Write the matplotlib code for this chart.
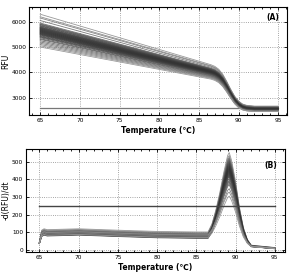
import matplotlib
matplotlib.use("Agg")
import matplotlib.pyplot as plt
from matplotlib.ticker import MultipleLocator

# ---- panel A: melt curves (RFU) ----
rfu_start = [6300, 6200, 6150, 6050, 5950, 5920, 5900, 5880, 5850, 5830,
             5800, 5780, 5760, 5740, 5720, 5700, 5680, 5660, 5640, 5620,
             5600, 5580, 5560, 5540, 5520, 5500, 5480, 5450, 5420, 5400,
             5370, 5330, 5300, 5250, 5200, 5150, 5100, 5050, 5000]
rfu_knee = [4300, 4260, 4240, 4200, 4160, 4150, 4140, 4130, 4120, 4110,
            4100, 4090, 4080, 4070, 4060, 4050, 4040, 4030, 4020, 4010,
            4000, 3990, 3980, 3970, 3960, 3950, 3940, 3930, 3920, 3910,
            3890, 3870, 3860, 3840, 3820, 3800, 3780, 3760, 3730]
rfu_plateau = [2660, 2650, 2640, 2630, 2620, 2610, 2605, 2600, 2595, 2590,
               2585, 2580, 2575, 2570, 2565, 2560, 2555, 2550, 2545, 2540,
               2535, 2530, 2525, 2520, 2515, 2510, 2505, 2500, 2495, 2490,
               2485, 2480, 2475, 2470, 2465, 2460, 2455, 2450, 2445]
temp_melt = [86.5, 87.0, 87.5, 88.0, 88.5, 89.0, 89.5, 90.0, 90.5, 91.0, 92.0, 95.0]
melt_frac = [1.0, 0.96, 0.89, 0.77, 0.60, 0.41, 0.24, 0.12, 0.05, 0.02, 0.0, 0.0]
rfu_threshold = 2570

# ---- panel B: derivative curves -d(RFU)/dt ----
temp_d = [65.0, 65.3, 65.6, 66.0, 70.0, 75.0, 80.0, 85.0, 86.5, 87.0,
          87.5, 88.0, 88.5, 89.0, 89.2, 89.5, 90.0, 90.5, 91.0, 91.5, 92.0, 95.0]
d_base = [40, 92, 100, 95, 100, 92, 85, 82, 82, 78,
          68, 55, 42, 32, 28, 25, 22, 20, 20, 20, 18, 10]
d_base_weight = [0.3, 1, 1, 1, 1, 1, 1, 1, 1, 0.9,
                 0.7, 0.5, 0.35, 0.25, 0.2, 0.2, 0.2, 0.2, 0.2, 0.2, 0.2, 0.2]
d_peak_frac = [0, 0, 0, 0, 0, 0, 0, 0, 0, 0.1,
               0.28, 0.5, 0.75, 0.96, 1.0, 0.92, 0.7, 0.42, 0.2, 0.07, 0.01, 0]
d_peak = [520, 505, 495, 490, 485, 480, 475, 470, 465, 460,
          455, 450, 445, 440, 435, 430, 425, 420, 415, 410,
          405, 400, 395, 390, 380, 370, 360, 350, 340, 320, 300, 280]
d_offset = [20, 16, 13, 10, 8, 6, 4, 3, 2, 1,
            0, -1, -2, -3, -4, -5, -6, -7, -8, -9,
            -10, -11, -12, -13, -14, -16, -8, 0, 6, -4, 3, -12]
d_threshold = 250

fig = plt.figure(figsize=(2.99, 2.73), dpi=100)
ax1 = fig.add_axes([0.097, 0.578, 0.863, 0.395])
ax2 = fig.add_axes([0.087, 0.076, 0.866, 0.378])


def line_color(i, n):
    # outer curves lighter, core darker
    d = abs(i - (n - 1) / 2) / ((n - 1) / 2)
    g = 0.2 + 0.4 * d ** 2
    return (g, g, g)


n = len(rfu_start)
ax1.plot([65, 95], [rfu_threshold, rfu_threshold], color="#777777", lw=0.9)
for i in range(n):
    t = [65.0] + temp_melt
    v = [rfu_start[i]] + [rfu_plateau[i] + f * (rfu_knee[i] - rfu_plateau[i]) for f in melt_frac]
    ax1.plot(t, v, color=line_color(i, n), lw=0.6)

m = len(d_peak)
for i in range(m):
    v = [b + w * d_offset[i] + f * d_peak[i]
         for b, w, f in zip(d_base, d_base_weight, d_peak_frac)]
    ax2.plot(temp_d, v, color=line_color(i, m), lw=0.6)
ax2.plot([65, 95], [d_threshold, d_threshold], color="#444444", lw=1.0)

ax1.set_xlim(63.6, 96.1)
ax1.set_ylim(2300, 6570)
ax1.set_yticks([3000, 4000, 5000, 6000])
ax1.set_ylabel("RFU", fontsize=5.5, labelpad=1)
ax1.text(0.97, 0.95, "(A)", transform=ax1.transAxes, ha="right", va="top",
         fontsize=5.5, fontweight="bold")

ax2.set_xlim(63.3, 96.3)
ax2.set_ylim(-13, 572)
ax2.set_yticks([0, 100, 200, 300, 400, 500])
ax2.set_ylabel("-d(RFU)/dt", fontsize=5.5, labelpad=1)
ax2.text(0.97, 0.88, "(B)", transform=ax2.transAxes, ha="right", va="top",
         fontsize=5.5, fontweight="bold")

for ax in (ax1, ax2):
    ax.set_xticks([65, 70, 75, 80, 85, 90, 95])
    ax.xaxis.set_minor_locator(MultipleLocator(1))
    ax.tick_params(which="both", direction="in", top=True, right=True,
                   labelsize=4.2, pad=2, width=0.6)
    ax.tick_params(which="major", length=2.5)
    ax.tick_params(which="minor", length=1.5)
    ax.grid(True, linestyle=":", color="#888888", lw=0.6)
    ax.set_xlabel("Temperature (\u2103)", fontsize=5.5, fontweight="bold", labelpad=2)
    for s in ax.spines.values():
        s.set_linewidth(0.8)

fig.savefig("out.png", dpi=100)
